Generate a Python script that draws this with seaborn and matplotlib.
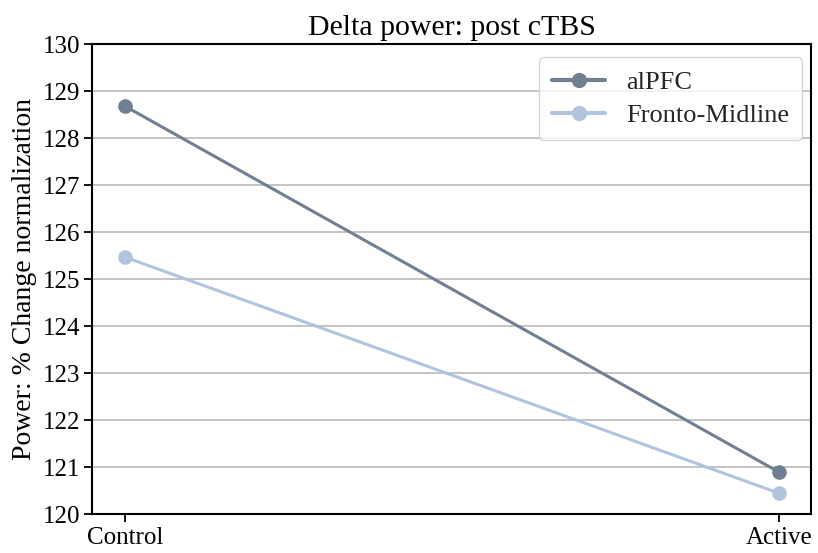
import matplotlib
matplotlib.use("Agg")
import matplotlib.pyplot as plt
import seaborn as sns
import pandas as pd

conditions = ["Control", "Active"]
alpfc = [128.68, 120.90]
fronto = [125.47, 120.45]
series_names = ["alPFC", "Fronto-Midline"]
colors = ["#708090", "#B0C4DE"]

sns.set_style("white", {"xtick.bottom": True, "ytick.left": True,
                        "xtick.color": "black", "ytick.color": "black"})
plt.rcParams["font.family"] = ["Liberation Serif", "DejaVu Serif"]
plt.rcParams["xtick.major.size"] = 6
plt.rcParams["ytick.major.size"] = 6
plt.rcParams["xtick.major.width"] = 1.3
plt.rcParams["ytick.major.width"] = 1.3

df = pd.DataFrame({
    "x": list(range(len(conditions))) * 2,
    "value": alpfc + fronto,
    "series": [series_names[0]] * 2 + [series_names[1]] * 2,
})

fig, ax = plt.subplots(figsize=(8.18, 5.53), dpi=100)
fig.subplots_adjust(left=0.113, right=0.992, top=0.92, bottom=0.07)

sns.lineplot(data=df, x="x", y="value", hue="series", palette=colors,
             marker="o", markersize=10.5, markeredgewidth=0, linewidth=2.2, ax=ax)

ax.set_xticks(range(len(conditions)))
ax.set_xticklabels(conditions, fontsize=18)
ax.set_xlim(-0.05, 1.05)
ax.set_ylim(120, 130)
ax.set_yticks(range(120, 131))
ax.tick_params(axis="both", which="major", direction="out", length=6, width=1.3,
               bottom=True, left=True, color="black")
ax.tick_params(axis="y", labelsize=18, labelcolor="black", pad=3)
ax.tick_params(axis="x", labelcolor="black", pad=3)
ax.yaxis.grid(True, color="#bfbfbf", linewidth=1.3)
ax.xaxis.grid(False)
for s in ax.spines.values():
    s.set_color("black")
    s.set_linewidth(1.5)
ax.set_xlabel("")
ax.set_ylabel("Power: % Change normalization", fontsize=20, color="black")
ax.set_title("Delta power: post cTBS", fontsize=21.5, color="black", pad=7)
leg = ax.legend(loc="upper right", fontsize=19, frameon=True, borderpad=0.5,
                labelspacing=0.35, handlelength=2.0, borderaxespad=0,
                bbox_to_anchor=(0.9875, 0.972))
leg.get_frame().set_edgecolor("#cccccc")
for h in leg.get_lines():
    h.set_linewidth(3)
    h.set_markersize(11)

fig.savefig("out.png", dpi=100)
